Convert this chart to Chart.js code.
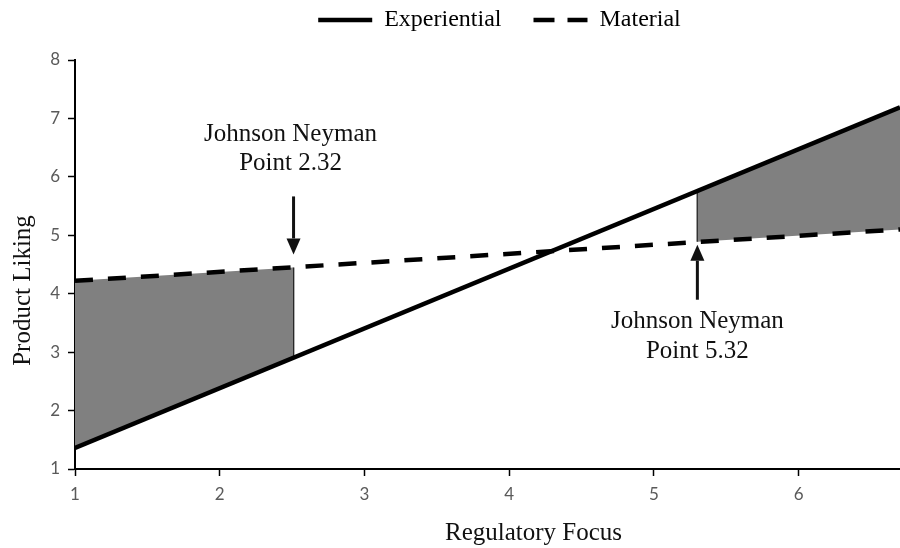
<!DOCTYPE html>
<html>
<head>
<title>Product Liking by Regulatory Focus</title>
<script src="https://cdn.jsdelivr.net/npm/chart.js@4.4.0/dist/chart.umd.min.js"></script>
<style>
    body {
        margin: 0;
        background: #fff;
    }

    #chartBox {
        width: 900px;
        height: 548px;
    }
</style>
</head>
<body>
<div id="chartBox"><canvas id="jnChart"></canvas></div>

<script>
// regulatory focus range shown, and the two simple slopes at its ends
const focusRange = [1, 6.7];
const experiential = [1.36, 7.19];
const material = [4.22, 5.10];

// shaded regions of significance (as drawn in the figure)
const leftRegionX = [1, 2.51];
const leftRegionTop = [4.22, 4.45];     // on the material line
const leftRegionBottom = [1.36, 2.90];  // on the experiential line
const rightRegionX = [5.30, 6.7];
const rightRegionTop = [5.76, 7.19];    // on the experiential line
const rightRegionBottom = [4.89, 5.10]; // on the material line

const jnLabels = ['Point 2.32', 'Point 5.32'];

const serif = '"Liberation Serif", "Times New Roman", serif';
const shade = '#808080';

function toPoints(xs, ys) {
    return xs.map((x, i) => ({ x: x, y: ys[i] }));
}

function drawArrow(ctx, x, fromY, toY) {
    const dir = toY > fromY ? 1 : -1;
    const headLen = 16;
    ctx.beginPath();
    ctx.moveTo(x, fromY);
    ctx.lineTo(x, toY - dir * headLen);
    ctx.lineWidth = 3;
    ctx.stroke();
    ctx.beginPath();
    ctx.moveTo(x, toY);
    ctx.lineTo(x - 7, toY - dir * headLen);
    ctx.lineTo(x + 7, toY - dir * headLen);
    ctx.closePath();
    ctx.fill();
}

const jnNotes = {
    id: 'jnNotes',
    afterLayout(chart) {
        // legend sits higher and a bit to the right of where chart.js puts it
        chart.legend.top -= 18;
        chart.legend.bottom -= 18;
        chart.legend.left += 12;
        chart.legend.right += 12;
    },
    afterDraw(chart) {
        const { ctx, chartArea } = chart;
        const x = chart.scales.x;
        const y = chart.scales.y;
        ctx.save();
        ctx.fillStyle = '#111';
        ctx.strokeStyle = '#111';

        const lx = x.getPixelForValue(leftRegionX[1]);
        const ly = y.getPixelForValue(leftRegionTop[1]);
        drawArrow(ctx, lx, ly - 71, ly - 13);

        const rx = x.getPixelForValue(rightRegionX[0]);
        const ry = y.getPixelForValue(rightRegionBottom[0]);
        drawArrow(ctx, rx, ry + 58, ry + 3);

        ctx.font = '25px ' + serif;
        ctx.textAlign = 'center';
        ctx.textBaseline = 'middle';
        ctx.fillText('Johnson Neyman', lx - 3, ly - 133);
        ctx.fillText(jnLabels[0], lx - 3, ly - 104);
        ctx.fillText('Johnson Neyman', rx, ry + 80);
        ctx.fillText(jnLabels[1], rx, ry + 110);

        // axis titles
        ctx.fillText('Regulatory Focus', (chartArea.left + chartArea.right) / 2 + 46, chartArea.bottom + 64);
        ctx.translate(23, (chartArea.top + chartArea.bottom) / 2 + 26);
        ctx.rotate(-Math.PI / 2);
        ctx.fillText('Product Liking', 0, 0);
        ctx.restore();
    }
};

const tickFont = { family: 'Lato, "Liberation Sans", sans-serif', size: 17 };

new Chart(document.getElementById('jnChart'), {
    type: 'line',
    data: {
        datasets: [{
            label: 'Experiential',
            data: toPoints(focusRange, experiential),
            borderColor: '#000',
            borderWidth: 4.5,
            pointRadius: 0,
            fill: false
        }, {
            label: 'Material',
            data: toPoints(focusRange, material),
            borderColor: '#000',
            borderWidth: 4.5,
            borderDash: [18, 15],
            pointRadius: 0,
            fill: false
        }, {
            label: 'left region',
            data: toPoints(leftRegionX, leftRegionTop),
            borderWidth: 0,
            pointRadius: 0,
            backgroundColor: shade,
            fill: '+1'
        }, {
            label: 'left region base',
            data: toPoints(leftRegionX, leftRegionBottom),
            borderWidth: 0,
            pointRadius: 0,
            fill: false
        }, {
            label: 'right region',
            data: toPoints(rightRegionX, rightRegionTop),
            borderWidth: 0,
            pointRadius: 0,
            backgroundColor: shade,
            fill: '+1'
        }, {
            label: 'right region base',
            data: toPoints(rightRegionX, rightRegionBottom),
            borderWidth: 0,
            pointRadius: 0,
            fill: false
        }, {
            label: 'left bound',
            data: [{ x: leftRegionX[1], y: leftRegionTop[1] }, { x: leftRegionX[1], y: leftRegionBottom[1] }],
            borderColor: '#000',
            borderWidth: 1.5,
            pointRadius: 0,
            fill: false
        }, {
            label: 'right bound',
            data: [{ x: rightRegionX[0], y: rightRegionTop[0] }, { x: rightRegionX[0], y: rightRegionBottom[0] }],
            borderColor: '#000',
            borderWidth: 1.5,
            pointRadius: 0,
            fill: false
        }]
    },
    options: {
        responsive: true,
        maintainAspectRatio: false,
        animation: false,
        layout: { padding: { top: -6, left: 0, right: 0, bottom: 0 } },
        plugins: {
            tooltip: { enabled: false },
            legend: {
                position: 'top',
                fullSize: false,
                labels: {
                    usePointStyle: true,
                    pointStyleWidth: 54,
                    padding: 32,
                    color: '#111',
                    font: { family: serif, size: 24 },
                    generateLabels: () => [
                        { text: 'Experiential', fillStyle: '#000', strokeStyle: '#000', lineWidth: 4.5, lineDash: [], pointStyle: 'line', datasetIndex: 0 },
                        { text: 'Material', fillStyle: '#000', strokeStyle: '#000', lineWidth: 4.5, lineDash: [21, 13], pointStyle: 'line', datasetIndex: 1 }
                    ]
                }
            }
        },
        scales: {
            x: {
                type: 'linear',
                min: focusRange[0],
                max: focusRange[1],
                afterFit: (scale) => { scale.height = 79; },
                ticks: { stepSize: 1, includeBounds: false, padding: 8, color: '#5a5a5a', font: tickFont },
                grid: { drawOnChartArea: false, tickLength: 7, tickColor: '#000', tickWidth: 1.5 },
                border: { color: '#000', width: 2 }
            },
            y: {
                min: 1,
                max: 8,
                afterFit: (scale) => { scale.width = 75; },
                ticks: { stepSize: 1, padding: 8, color: '#5a5a5a', font: tickFont },
                grid: { drawOnChartArea: false, tickLength: 7, tickColor: '#000', tickWidth: 1.5 },
                border: { color: '#000', width: 2 }
            }
        }
    },
    plugins: [jnNotes]
});
</script>
</body>
</html>
